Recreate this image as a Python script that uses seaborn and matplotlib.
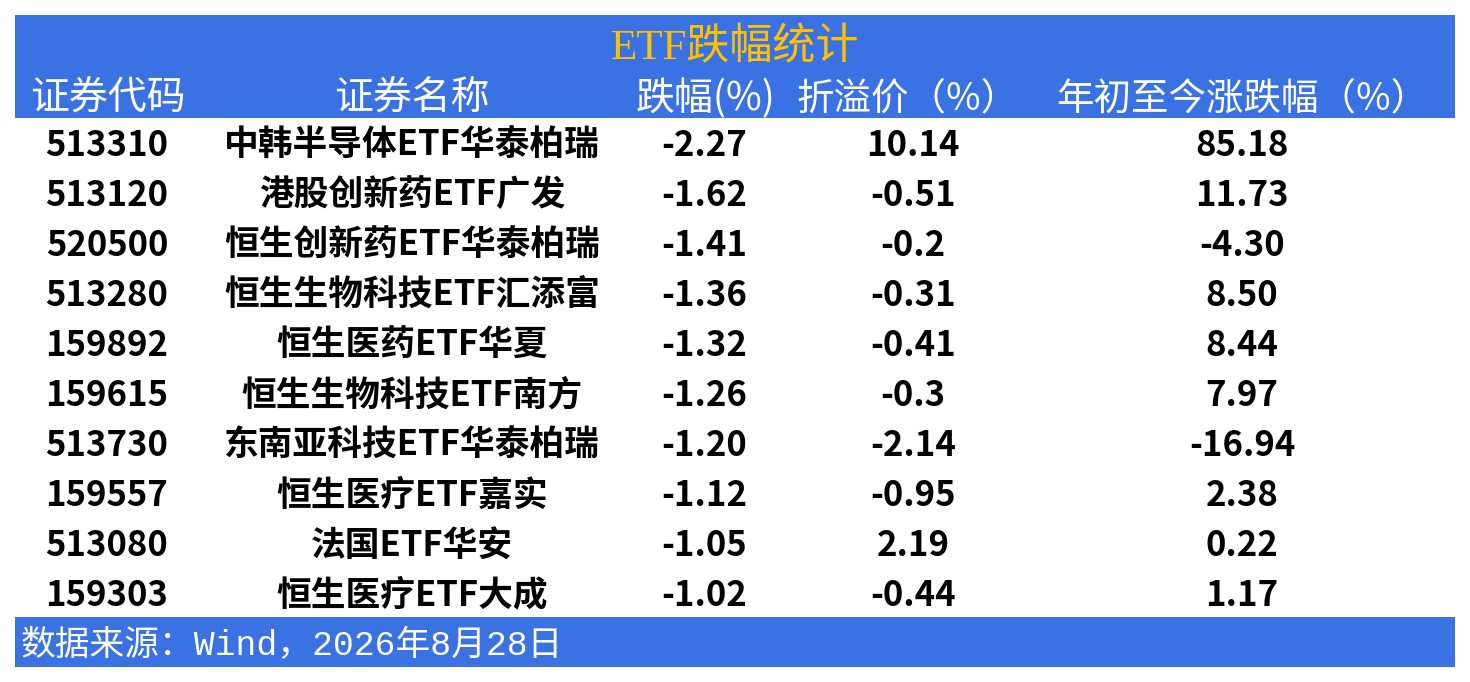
import matplotlib
matplotlib.use("Agg")
import matplotlib.pyplot as plt
import seaborn as sns
from matplotlib.patches import Rectangle

# Data
codes = ["513310", "513120", "520500", "513280", "159892",
         "159615", "513730", "159557", "513080", "159303"]
names = ["中韩半导体ETF华泰柏瑞", "港股创新药ETF广发", "恒生创新药ETF华泰柏瑞",
         "恒生生物科技ETF汇添富", "恒生医药ETF华夏", "恒生生物科技ETF南方",
         "东南亚科技ETF华泰柏瑞", "恒生医疗ETF嘉实", "法国ETF华安", "恒生医疗ETF大成"]
drop_pct = ["-2.27", "-1.62", "-1.41", "-1.36", "-1.32",
            "-1.26", "-1.20", "-1.12", "-1.05", "-1.02"]
premium = ["10.14", "-0.51", "-0.2", "-0.31", "-0.41",
           "-0.3", "-2.14", "-0.95", "2.19", "-0.44"]
ytd = ["85.18", "11.73", "-4.30", "8.50", "8.44",
       "7.97", "-16.94", "2.38", "0.22", "1.17"]
headers = ["证券代码", "证券名称", "跌幅(%)", "折溢价（%）", "年初至今涨跌幅（%）"]
title = "ETF跌幅统计"
source = "数据来源：Wind，2026年8月28日"

sns.set_theme(style="white")
plt.rcParams["font.family"] = ["Noto Sans CJK SC", "DejaVu Sans"]

BLUE = "#3A72E4"
GOLD = "#FFC000"

fig = plt.figure(figsize=(14.7, 6.82), dpi=100)
ax = fig.add_axes([0, 0, 1, 1])
ax.set_xlim(0, 1470)
ax.set_ylim(682, 0)
ax.axis("off")

# header and footer bands
ax.add_patch(Rectangle((15, 15), 1440, 103, color=BLUE, lw=0))
ax.add_patch(Rectangle((15, 617), 1440, 50, color=BLUE, lw=0))

ax.text(735, 48, title, ha="center", va="center", color=GOLD,
        fontsize=31, family=["Liberation Serif", "Noto Sans CJK SC"])

head_x = [108, 412, 706, 908, 1242]
head_size = [28, 28, 28, 27, 27]
data_x = [107, 412, 704, 913, 1242]
for x, h, s in zip(head_x, headers, head_size):
    ax.text(x, 99, h, ha="center", va="center", color="white",
            fontsize=s, family=["Noto Sans CJK SC", "DejaVu Sans"])

body_font = ["Noto Sans CJK SC", "DejaVu Sans"]
columns = [codes, names, drop_pct, premium, ytd]
for i in range(len(codes)):
    y = 145 + 50 * i
    for x, col in zip(data_x, columns):
        ax.text(x, y, col[i], ha="center", va="center", color="black",
                fontsize=25, fontweight="bold", family=body_font)

ax.text(21, 646, source, ha="left", va="center", color="white",
        fontsize=25, family=["Liberation Mono", "Noto Sans CJK SC"])

fig.savefig("out.png", dpi=100)
